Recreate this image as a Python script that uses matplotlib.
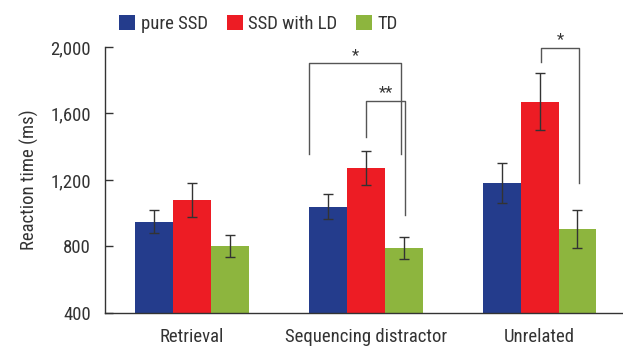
import matplotlib
matplotlib.use("Agg")
import matplotlib.pyplot as plt
import numpy as np
from matplotlib import font_manager

categories = ["Retrieval", "Sequencing distractor", "Unrelated"]
series_names = ["pure SSD", "SSD with LD", "TD"]
pure_ssd = [950, 1040, 1182]
ssd_ld = [1079, 1273, 1672]
td = [802, 790, 904]
pure_ssd_err = [67, 75, 120]
ssd_ld_err = [102, 103, 172]
td_err = [68, 68, 115]
yticks = [400, 800, 1200, 1600, 2000]
ytick_labels = ["400", "800", "1,200", "1,600", "2,000"]

names = sorted({f.name for f in font_manager.fontManager.ttflist})
cands = ["Liberation Sans Narrow", "Roboto Condensed", "DejaVu Sans Condensed", "Open Sans Condensed"]
fam = next((c for c in cands if c in names), None)
stretch = 'normal'
if fam is None:
    fam = "DejaVu Sans"
    stretch = 'condensed'
plt.rcParams['font.family'] = [fam, 'DejaVu Sans']
plt.rcParams['font.stretch'] = stretch

colors = ["#243C8C", "#ED1C24", "#8DB53E"]
fs = 13.5
fig = plt.figure(figsize=(6.23, 3.53), dpi=100)
ax = fig.add_axes([0.1685, 0.1133, 0.8315, 0.7536])

x = np.arange(len(categories))
w = 0.218
for k, (vals, errs) in enumerate([(pure_ssd, pure_ssd_err), (ssd_ld, ssd_ld_err), (td, td_err)]):
    ax.bar(x + (k - 1) * w, vals, width=w, color=colors[k], label=series_names[k], zorder=2)
    ax.errorbar(x + (k - 1) * w, vals, yerr=errs, fmt='none', ecolor='#333333',
                elinewidth=1.0, capsize=3.5, capthick=1.0, zorder=3)

ax.set_ylim(400, 2000)
ax.set_xlim(-0.5, 2.48)
ax.set_yticks(yticks)
ax.set_yticklabels(ytick_labels)
ax.set_xticks(x)
ax.set_xticklabels(categories)
ax.tick_params(axis='y', direction='in', length=6, width=1, color='#333333', labelsize=fs, pad=10, labelcolor='#333333')
ax.tick_params(axis='x', length=0, labelsize=fs, pad=11, labelcolor='#333333')
for s in ['top', 'right']:
    ax.spines[s].set_visible(False)
for s in ['left', 'bottom']:
    ax.spines[s].set_color('#333333')
    ax.spines[s].set_linewidth(1.0)
ax.set_ylabel("Reaction time (ms)", fontsize=fs, color='#333333', labelpad=8)

lc = '#555555'
def bracket(x1, x2, ytop, y1, y2, label, ystar):
    ax.plot([x1, x1, x2, x2], [y1, ytop, ytop, y2], color=lc, lw=1.0, clip_on=False, zorder=4)
    ax.text((x1 + x2) / 2, ystar, label, ha='center', va='center', fontsize=12, color='#333333', clip_on=False)

bracket(0.675, 1.201, 1904, 1356, 1356, "*", 1950)
bracket(1.002, 1.226, 1678, 1460, 992, "**", 1725)
bracket(2.009, 2.227, 1996, 1910, 1184, "*", 2045)

ax.legend(loc='upper left', bbox_to_anchor=(-0.005, 1.185), ncol=3, frameon=False,
          fontsize=fs, handlelength=0.85, handleheight=0.85, handletextpad=0.3,
          columnspacing=1.0, labelcolor='#333333')

fig.savefig("out.png", dpi=100)
